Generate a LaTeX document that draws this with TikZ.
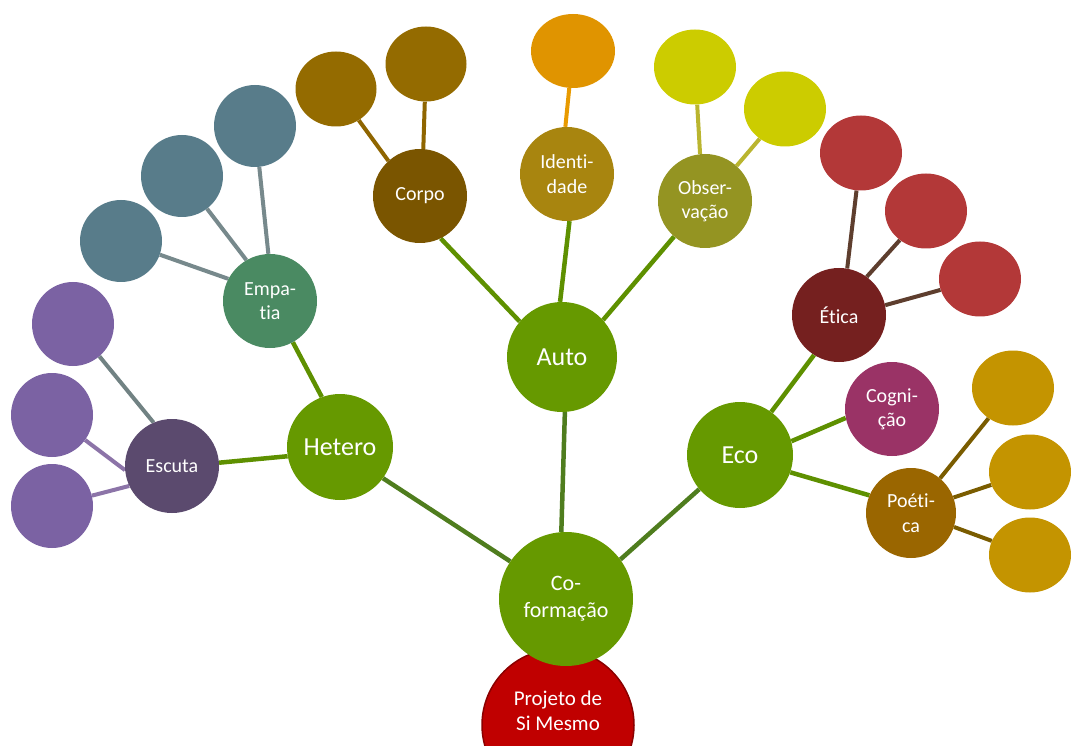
\documentclass[tikz,border=0pt]{standalone}
\usepackage{fontspec}
\setmainfont{Carlito}[Ligatures={NoCommon,NoRare}]
\usetikzlibrary{shapes.geometric,backgrounds}
\definecolor{cgreen}{HTML}{669900}
\definecolor{lgreen}{HTML}{5E9000}
\definecolor{dgreen}{HTML}{4F7D1E}
\definecolor{cproj}{HTML}{C00000}
\definecolor{cprojb}{HTML}{8B0000}
\definecolor{cident}{HTML}{A8850F}
\definecolor{ccorpo}{HTML}{7A5500}
\definecolor{cobs}{HTML}{949422}
\definecolor{cemp}{HTML}{4A8A62}
\definecolor{cesc}{HTML}{5B4A6E}
\definecolor{cetica}{HTML}{75201F}
\definecolor{ccog}{HTML}{9A3366}
\definecolor{cpoe}{HTML}{9A6600}
\definecolor{lcorpo}{HTML}{946B00}
\definecolor{lident}{HTML}{E09400}
\definecolor{lobs}{HTML}{CCCC00}
\definecolor{lemp}{HTML}{587C8A}
\definecolor{lesc}{HTML}{7B62A3}
\definecolor{letica}{HTML}{B33838}
\definecolor{lpoe}{HTML}{C49400}
\definecolor{kemp}{HTML}{77898C}
\definecolor{kcorpo}{HTML}{8F6500}
\definecolor{kident}{HTML}{E89A00}
\definecolor{kobs}{HTML}{BAB52F}
\definecolor{kescg}{HTML}{718283}
\definecolor{kesc}{HTML}{8C74A8}
\definecolor{ketica}{HTML}{5E3E2E}
\definecolor{kpoe}{HTML}{7A5C00}
\begin{document}
\begin{tikzpicture}[x=1pt,y=-1pt,
  hub/.style={circle, fill=cgreen, text=white, inner sep=0pt, align=center, font=\fontsize{26}{31}\selectfont},
  sub/.style={circle, text=white, inner sep=0pt, align=center, minimum size=94pt, font=\fontsize{20}{24.4}\selectfont},
  leaf/.style={ellipse, inner sep=0pt, minimum width=82pt, minimum height=76pt},
  link/.style={line width=4.5pt, lgreen},
  dlink/.style={line width=4.5pt, dgreen},
  twig/.style={line width=4pt}]
\clip (0,0) rectangle (1077,746);
% root
\node[circle, fill=cproj, draw=cprojb, line width=1.5pt, minimum size=152pt, inner sep=0pt] (proj) at (558,725) {};
\node[text=white, align=center, font=\fontsize{21}{25.5}\selectfont] (projtxt) at (558,711) {Projeto de\\Si Mesmo};
\node[hub, minimum size=134pt, font=\fontsize{22}{26.8}\selectfont] (cof) at (566,599) {Co-\\formação};
% hubs
\node[hub, minimum size=110pt] (auto) at (562,357) {Auto};
\node[hub, minimum size=106pt] (het) at (340,447) {Hetero};
\node[hub, minimum size=106pt] (eco) at (740,455) {Eco};
% sub nodes
\node[sub, fill=cident] (ident) at (567,174) {Identi-\\dade};
\node[sub, fill=ccorpo] (corpo) at (420,196) {Corpo};
\node[sub, fill=cobs] (obs) at (705,201) {Obser-\\vação};
\node[sub, fill=cemp] (emp) at (270,301) {Empa-\\tia};
\node[sub, fill=cesc] (esc) at (172,466) {Escuta};
\node[sub, fill=cetica] (etica) at (839,315) {Ética};
\node[sub, fill=ccog] (cog) at (892,409) {Cogni-\\ção};
\node[sub, fill=cpoe, minimum size=90pt] (poe) at (911,513) {Poéti-\\ca};
% leaves
\node[leaf, fill=lcorpo, minimum width=81pt, minimum height=75pt] (c1) at (336,89) {};
\node[leaf, fill=lcorpo, minimum width=81pt, minimum height=75pt] (c2) at (426,64) {};
\node[leaf, fill=lident, minimum width=84pt, minimum height=74pt] (i1) at (573,51) {};
\node[leaf, fill=lobs, minimum height=75pt] (o1) at (695,67) {};
\node[leaf, fill=lobs, minimum height=75pt] (o2) at (785,109) {};
\node[leaf, fill=lemp, minimum height=82pt] (e1) at (255,126) {};
\node[leaf, fill=lemp, minimum height=82pt] (e2) at (182,176) {};
\node[leaf, fill=lemp, minimum height=82pt] (e3) at (121,241) {};
\node[leaf, fill=lesc, minimum height=84pt] (s1) at (73,324) {};
\node[leaf, fill=lesc, minimum height=84pt] (s2) at (52,415) {};
\node[leaf, fill=lesc, minimum height=84pt] (s3) at (52,506) {};
\node[leaf, fill=letica, minimum height=75pt] (t1) at (861,153) {};
\node[leaf, fill=letica, minimum height=75pt] (t2) at (926,211) {};
\node[leaf, fill=letica, minimum height=75pt] (t3) at (980,279) {};
\node[leaf, fill=lpoe, minimum height=75pt] (p1) at (1013,388) {};
\node[leaf, fill=lpoe, minimum height=75pt] (p2) at (1030,472) {};
\node[leaf, fill=lpoe, minimum height=75pt] (p3) at (1030,555) {};
\begin{scope}[on background layer]
\draw[dlink] (het.-36) -- (cof.146);
\draw[dlink] (eco.220) -- (cof.36);
\draw[dlink] (auto.-87) -- (cof.94);
\draw[link] (auto.92) -- (ident.-87);
\draw[link] (auto.140) -- (corpo.-64);
\draw[link] (auto.42) -- (obs.229);
\draw[link] (het.110) -- (emp.-61);
\draw[link] (het.190) -- (esc.4);
\draw[link] (eco.54) -- (etica.238);
\draw[link] (eco.15) -- (cog.191);
\draw[link] (eco.-19) -- (poe.157);
\draw[twig, kemp] (emp.92) -- (e1);
\draw[twig, kemp] (emp.120) -- (e2);
\draw[twig, kemp] (emp.152) -- (e3);
\draw[twig, kcorpo] (corpo.132) -- (c1);
\draw[twig, kcorpo] (corpo.86) -- (c2);
\draw[twig, kident] (ident.92) -- (i1);
\draw[twig, kobs] (obs.96) -- (o1);
\draw[twig, kobs] (obs.48) -- (o2);
\draw[twig, kescg] (esc.113) -- (s1);
\draw[twig, kesc] (esc.185) -- (s2);
\draw[twig, kesc] (esc.205) -- (s3);
\draw[twig, ketica] (etica.80) -- (t1);
\draw[twig, ketica] (etica.54) -- (t2);
\draw[twig, ketica] (etica.12) -- (t3);
\draw[twig, kpoe] (poe.50) -- (p1);
\draw[twig, kpoe] (poe.20) -- (p2);
\draw[twig, kpoe] (poe.-18) -- (p3);
\end{scope}
\end{tikzpicture}
\end{document}
